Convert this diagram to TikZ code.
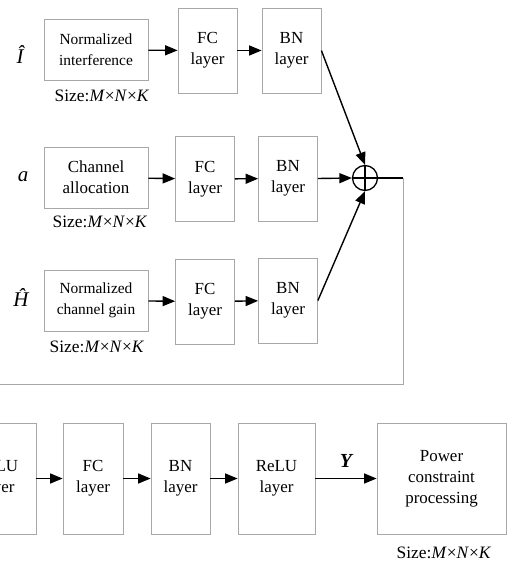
\documentclass[tikz,border=0pt]{standalone}
\usepackage{fontspec}
\setmainfont{Liberation Serif}
\usetikzlibrary{arrows.meta}
\definecolor{boxgray}{RGB}{168,168,168}
\begin{document}
\begin{tikzpicture}[x=1bp,y=-1bp,
  box/.style={draw=boxgray,line width=0.8pt,align=center,inner sep=0pt,
    font=\fontsize{17}{21}\selectfont},
  inbox/.style={box,minimum width=104bp,minimum height=61bp},
  layerbox/.style={box,minimum width=59bp,minimum height=85bp},
  lowbox/.style={box,minimum height=111bp},
  flow/.style={-{Triangle[length=12.5bp,width=10bp]},line width=1.4pt},
  sizelbl/.style={font=\fontsize{17.5}{20}\selectfont,inner sep=0pt},
  varlbl/.style={font=\fontsize{21}{24}\selectfont\itshape,inner sep=0pt}]
\useasboundingbox (0,0) rectangle (507,563);
\clip (0,0) rectangle (507,563);

% input branch 1: interference
\node[varlbl] (vi) at (20,55) {Î};
\node[inbox,font=\fontsize{15.5}{21}\selectfont] (n1) at (96,50) {Normalized\\interference};
\node[sizelbl] (s1) at (102,96) {Size:\textit{M}×\textit{N}×\textit{K}};
\node[layerbox] (fc1) at (207.5,50.5) {FC\\layer};
\node[layerbox] (bn1) at (291.5,50.5) {BN\\layer};

% input branch 2: channel allocation
\node[varlbl] (va) at (23,177) {a};
\node[inbox] (n2) at (96,177.5) {Channel\\allocation};
\node[sizelbl] (s2) at (100,222) {Size:\textit{M}×\textit{N}×\textit{K}};
\node[layerbox] (fc2) at (205,179) {FC\\layer};
\node[layerbox] (bn2) at (288,178.5) {BN\\layer};

% input branch 3: channel gain
\node[varlbl] (vh) at (21,298) {Ĥ};
\node[inbox,font=\fontsize{15.5}{21}\selectfont] (n3) at (96,300.5) {Normalized\\channel gain};
\node[sizelbl] (s3) at (97,347) {Size:\textit{M}×\textit{N}×\textit{K}};
\node[layerbox] (fc3) at (205,301.5) {FC\\layer};
\node[layerbox] (bn3) at (288,300.5) {BN\\layer};

% summation
\node[draw,circle,line width=1.3pt,minimum size=25bp,inner sep=0pt] (sum) at (365,178) {};
\draw[line width=1.3pt] (sum.north) -- (sum.south) (sum.west) -- (sum.east);

\draw[flow] (n1) -- (fc1);
\draw[flow] (fc1) -- (bn1);
\draw[flow] (n2) -- (fc2);
\draw[flow] (fc2) -- (bn2);
\draw[flow] (n3) -- (fc3);
\draw[flow] (fc3) -- (bn3);
\draw[flow] (bn1.east) -- (sum.north);
\draw[flow] (bn2.east) -- (sum.west);
\draw[flow] (bn3.east) -- (sum.south);

% feedback into the lower chain
\coordinate (c1) at (403,178);
\coordinate (c2) at (403,384);
\coordinate (c3) at (0,384);
\draw[line width=1.3pt] (sum.east) -- (c1);
\draw[boxgray,line width=0.8pt] (c1) -- (c2) -- (c3);

% lower chain
\node[lowbox,minimum width=77bp] (r1) at (-2.5,478.5) {ReLU\\layer};
\node[lowbox,minimum width=60bp] (fc4) at (93,478.5) {FC\\layer};
\node[lowbox,minimum width=59bp] (bn4) at (180.5,478.5) {BN\\layer};
\node[lowbox,minimum width=77bp] (r2) at (276.5,478.5) {ReLU\\layer};
\node[lowbox,minimum width=129bp] (pw) at (441.5,478.5) {Power\\constraint\\processing};
\node[sizelbl] (s4) at (444,553) {Size:\textit{M}×\textit{N}×\textit{K}};

\draw[flow] (r1) -- (fc4);
\draw[flow] (fc4) -- (bn4);
\draw[flow] (bn4) -- (r2);
\draw[flow] (r2) -- node[above=10bp,inner sep=0pt,font=\fontsize{20}{22}\selectfont\bfseries\itshape] (ylbl) {Y} (pw);
\end{tikzpicture}
\end{document}
